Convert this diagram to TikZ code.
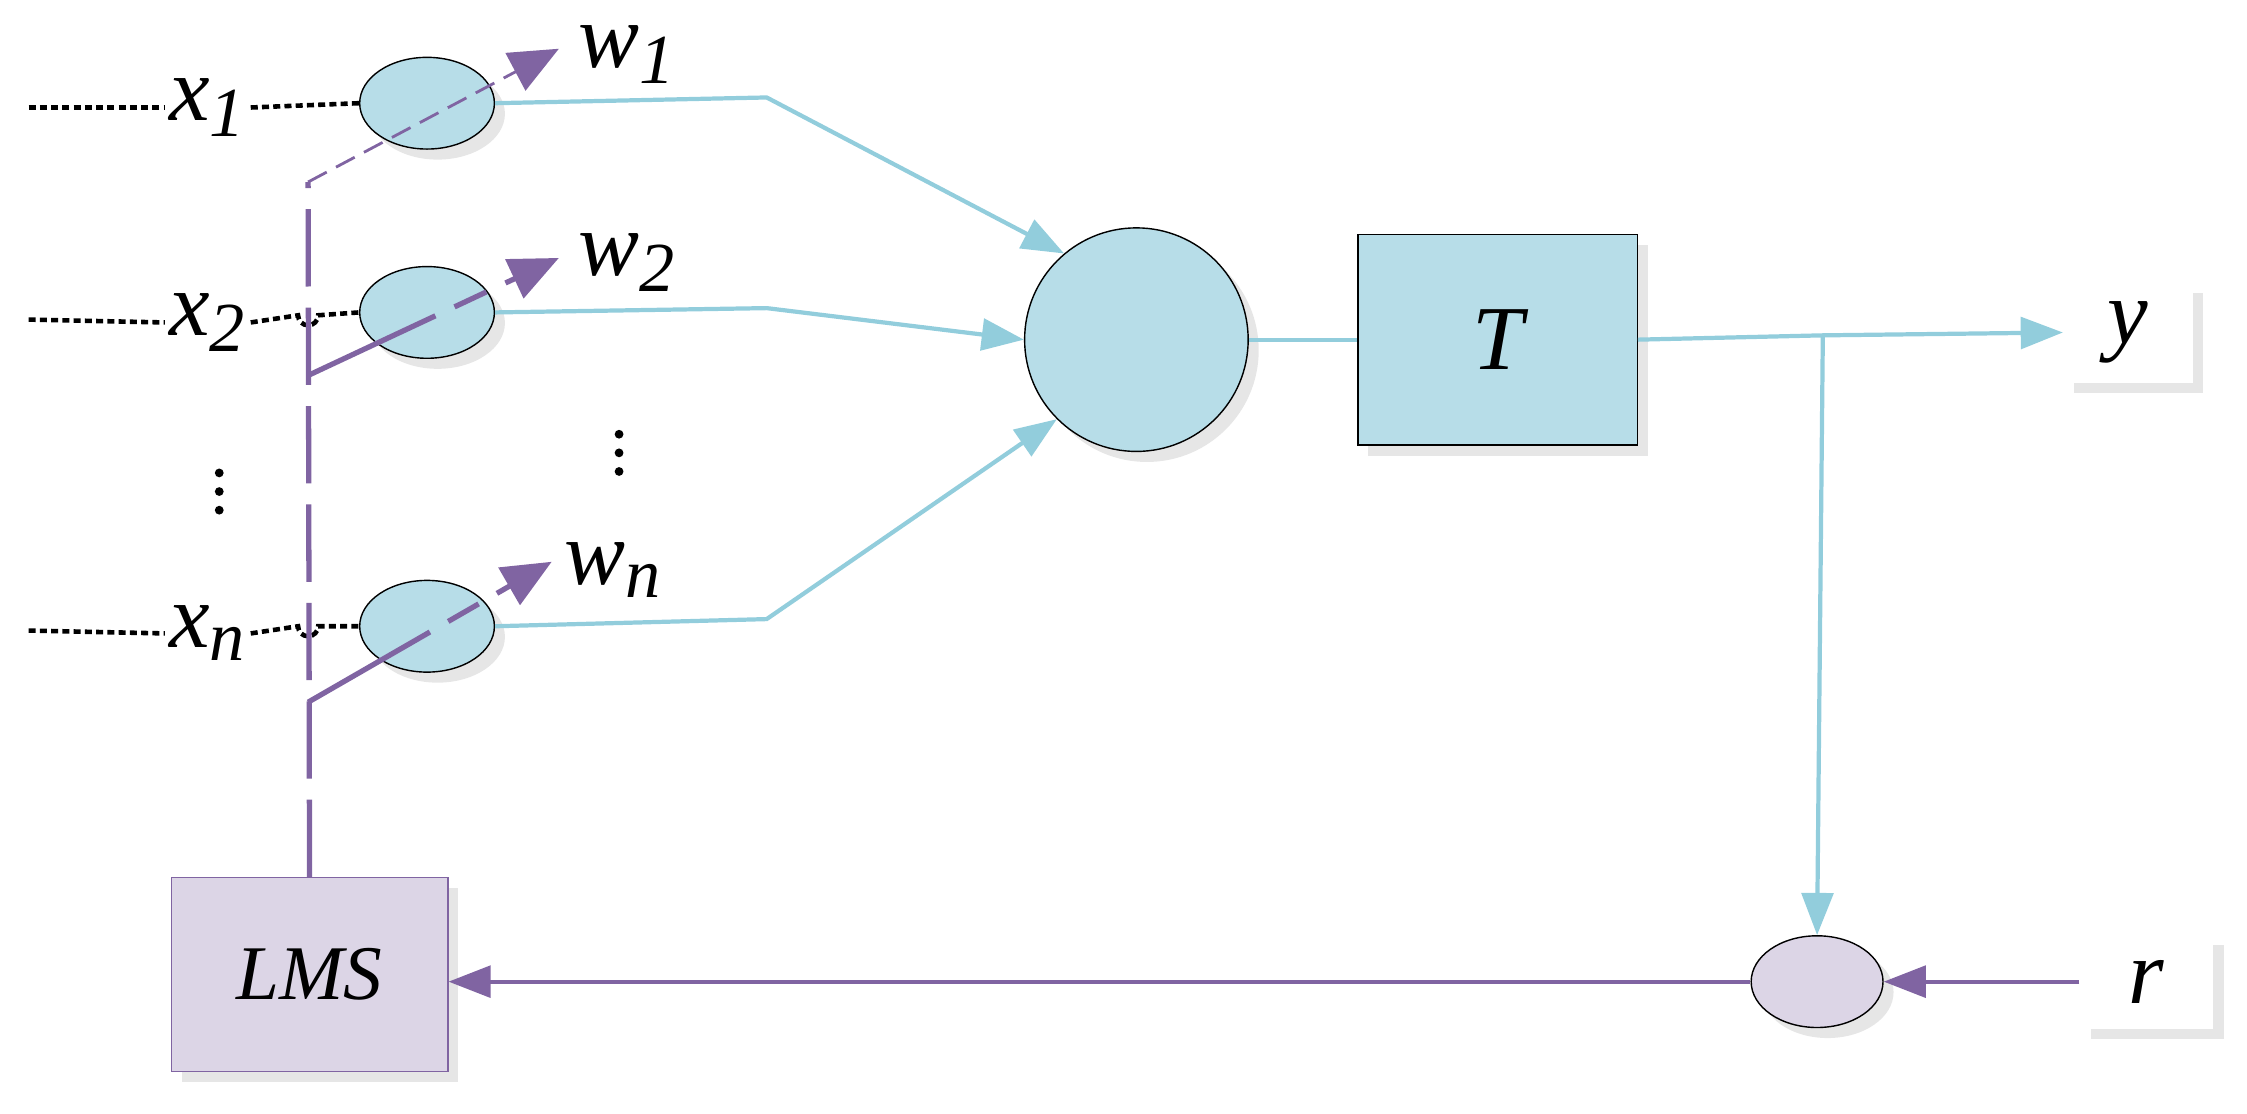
\documentclass[tikz,border=0pt]{standalone}
\usepackage{fontspec}
\setmainfont{Liberation Serif}
\usetikzlibrary{shadows,arrows.meta,shapes.geometric}
\begin{document}
\definecolor{bfill}{HTML}{B7DDE8}
\definecolor{bline}{HTML}{92CDDC}
\definecolor{pur}{HTML}{8064A2}
\definecolor{pfill}{HTML}{DCD5E6}
\begin{tikzpicture}[x=0.01433cm,y=-0.01433cm,
 sh/.style={drop shadow={opacity=0.2,shadow xshift=3pt,shadow yshift=-3pt}},
 bl/.style={draw=bline,line width=1.2pt},
 blar/.style={bl,-{Triangle[length=12pt,width=9pt]}},
 pl/.style={draw=pur,line width=1.2pt},
 lab/.style={font=\itshape\fontsize{26}{28}\selectfont,inner sep=1pt},
 sub/.style={font=\itshape\fontsize{18}{20}\selectfont},
 xin/.style={black,line width=1.3pt,dash pattern=on 2pt off 1.2pt},
 dot/.style={circle,fill=black,inner sep=0pt,minimum size=2.5pt},
]
\useasboundingbox (0,0) rectangle (1568,777);
\foreach \n/\yy in {e1/72,e2/218,en/437}{
 \node[draw=black,fill=bfill,ellipse,minimum width=94*0.01433cm,minimum height=64*0.01433cm,sh] (\n) at (298,\yy) {};}
\node[circle,draw=black,fill=bfill,minimum size=156*0.01433cm,sh] (sum) at (793,237) {};
\node[draw=black,fill=bfill,minimum width=195*0.01433cm,minimum height=147*0.01433cm,sh,lab] (T) at (1045,237) {T};
\node[fill=white,minimum width=90*0.01433cm,minimum height=70*0.01433cm,sh,lab] (y) at (1485,232) {y};
\node[fill=white,minimum width=93*0.01433cm,minimum height=66*0.01433cm,sh,lab] (r) at (1498,685) {r};
\node[draw=black,fill=pfill,ellipse,minimum width=92*0.01433cm,minimum height=64*0.01433cm,sh] (cmp) at (1268,685) {};
\node[draw=pur,fill=pfill,minimum width=193*0.01433cm,minimum height=135*0.01433cm,sh,font=\itshape\fontsize{22}{24}\selectfont] (lms) at (216,680) {LMS};
% inputs
\node[lab] (x1) at (145,75) {x\textsubscript{\fontsize{20}{20}\selectfont 1}};
\node[lab] (x2) at (145,225) {x\textsubscript{\fontsize{20}{20}\selectfont 2}};
\node[lab] (xn) at (145,442) {x\textsubscript{\fontsize{20}{20}\selectfont n}};
\coordinate (s1) at (20,75); \coordinate (s2) at (20,223); \coordinate (sn) at (20,440);
\draw[xin] (s1) -- (x1.west); \draw[xin] (x1.east) -- (e1.west);
\draw[xin] (s2) -- (x2.west); \draw[xin] (x2.east) -- (208,220) arc(180:0:7) -- (e2.west);
\draw[xin] (sn) -- (xn.west); \draw[xin] (xn.east) -- (208,437) arc(180:0:7) -- (en.west);
\foreach \yy in {330,343,356}{\node[dot] at (153,\yy) {};}
\foreach \yy in {303,316,329}{\node[dot] at (432,\yy) {};}
% weights
\node[lab] (w1) at (438,38) {w\textsubscript{\fontsize{20}{20}\selectfont 1}};
\node[lab] (w2) at (438,183) {w\textsubscript{\fontsize{20}{20}\selectfont 2}};
\node[lab] (wn) at (428,398) {w\textsubscript{\fontsize{20}{20}\selectfont n}};
\coordinate (v1) at (215,127); \coordinate (v2) at (215,262); \coordinate (vn) at (215,490);
\coordinate (t1) at (390,34); \coordinate (t2) at (390,180); \coordinate (tn) at (385,392);
\draw[pur,line width=1.5pt,dash pattern=on 22pt off 6pt] (lms.north) -- (v1);
\draw[pur,line width=0.8pt,dash pattern=on 6pt off 3pt,-{Triangle[length=14pt,width=12pt]}] (v1) -- (t1);
\draw[pur,line width=1.5pt,dash pattern=on 40pt off 6pt on 10pt off 6pt,-{Triangle[length=14pt,width=12pt]}] (v2) -- (t2);
\draw[pur,line width=1.5pt,dash pattern=on 40pt off 6pt on 10pt off 6pt,-{Triangle[length=14pt,width=12pt]}] (vn) -- (tn);
% blue connectors
\draw[blar] (e1.east) -- (535,68) -- (sum.130);
\draw[blar] (e2.east) -- (535,215) -- (sum.180);
\draw[blar] (en.east) -- (535,432) -- (sum.225);
\draw[bl] (sum.east) -- (T.west);
\coordinate (br) at (1272,234);
\draw[blar] (T.east) -- (br) -- (y.west);
\draw[blar] (br) -- (cmp.north);
% purple
\draw[pl,-{Triangle[length=12pt,width=9pt]}] (r.west) -- (cmp.east);
\draw[pl,-{Triangle[length=12pt,width=9pt]}] (cmp.west) -- (lms.east|-cmp.west);
\end{tikzpicture}
\end{document}
